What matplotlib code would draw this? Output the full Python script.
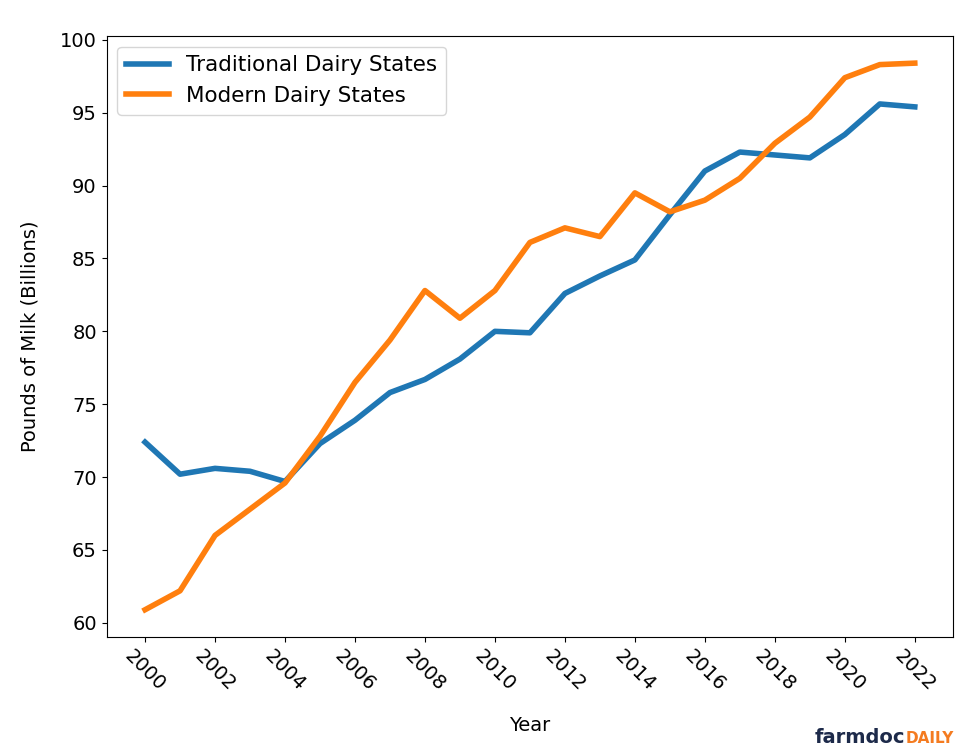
import numpy as np
import matplotlib.pyplot as plt

years = list(range(2000, 2023))
traditional = [72.4, 70.2, 70.6, 70.4, 69.7, 72.3, 73.9, 75.8, 76.7, 78.1, 80.0, 79.9,
               82.6, 83.8, 84.9, 88.0, 91.0, 92.3, 92.1, 91.9, 93.5, 95.6, 95.4]
modern = [60.9, 62.2, 66.0, 67.8, 69.6, 72.8, 76.5, 79.4, 82.8, 80.9, 82.8, 86.1,
          87.1, 86.5, 89.5, 88.2, 89.0, 90.5, 92.9, 94.7, 97.4, 98.3, 98.4]
xticks = list(range(2000, 2023, 2))

plt.rcParams['font.size'] = 14

fig = plt.figure(figsize=(9.6, 7.46), dpi=100)
ax = fig.add_axes([0.111, 0.146, 0.882, 0.806])

ax.plot(years, traditional, color='#1f77b4', linewidth=4, label='Traditional Dairy States')
ax.plot(years, modern, color='#ff7f0e', linewidth=4, label='Modern Dairy States')

ax.set_xticks(xticks)
ax.set_xticklabels([str(y) for y in xticks], rotation=-45, ha='center')
ax.set_xlabel('Year', labelpad=15)
ax.set_ylabel('Pounds of Milk (Billions)', labelpad=15)
ax.legend(loc='upper left', fontsize=15.5)

# logo text in the bottom-right corner
fig.text(0.943, 0.004, 'farmdoc', color='#1d2a4a', fontsize=14, fontweight='bold', ha='right')
fig.text(0.943, 0.004, 'DAILY', color='#f47b20', fontsize=11, fontweight='bold', ha='left')

fig.savefig('out.png', dpi=100)
